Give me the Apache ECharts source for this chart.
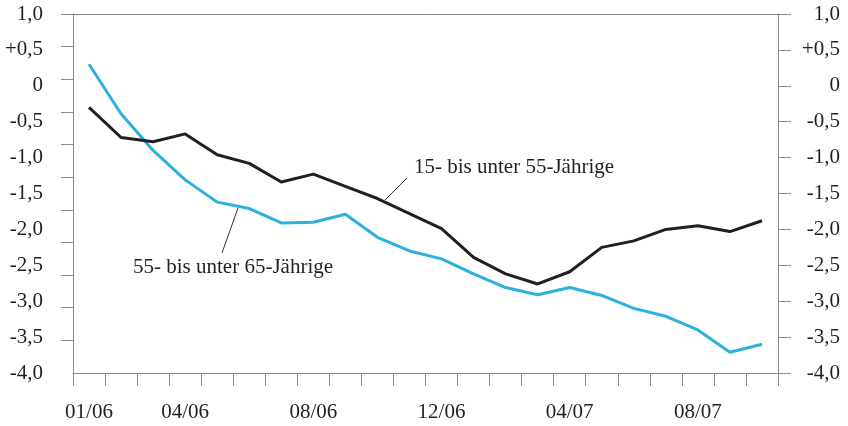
<!DOCTYPE html>
<html>
<head>
<meta charset="utf-8">
<script src="https://cdn.jsdelivr.net/npm/echarts@6/dist/echarts.min.js"></script>
<style>
  html, body { margin: 0; padding: 0; background: #fff; }
  #chart { width: 848px; height: 426px; }
</style>
</head>
<body>
<div id="chart"></div>
<script>
// Categories: months 01/06 .. 10/07
const months = ['01/06','02/06','03/06','04/06','05/06','06/06','07/06','08/06','09/06','10/06','11/06','12/06',
                '01/07','02/07','03/07','04/07','05/07','06/07','07/07','08/07','09/07','10/07'];
// Tick labels shown on the x axis
const xTickLabels = ['01/06','04/06','08/06','12/06','04/07','08/07'];
// Y tick labels from -4,0 up to 1,0
const yTickLabels = ['-4,0','-3,5','-3,0','-2,5','-2,0','-1,5','-1,0','-0,5','0','+0,5','1,0'];

const series15to55 = [-0.30,-0.72,-0.78,-0.67,-0.96,-1.08,-1.34,-1.23,-1.40,-1.57,-1.78,-1.99,
                      -2.39,-2.62,-2.76,-2.59,-2.25,-2.16,-2.00,-1.95,-2.03,-1.88];
const series55to65 = [0.30,-0.39,-0.90,-1.31,-1.62,-1.71,-1.91,-1.90,-1.79,-2.11,-2.30,-2.41,
                      -2.62,-2.81,-2.91,-2.81,-2.92,-3.10,-3.21,-3.40,-3.71,-3.60];

const seriesNames = ['15- bis unter 55-Jährige', '55- bis unter 65-Jährige'];

const FONT = 'Liberation Serif';
const TXT = '#231f20';
const AXIS = '#8a8a8a';

const chart = echarts.init(document.getElementById('chart'), null, { renderer: 'canvas' });

function yLabel(v) {
  const idx = Math.round((v + 4) / 0.5);
  return yTickLabels[idx] !== undefined ? yTickLabels[idx] : '';
}

const option = {
  animation: false,
  backgroundColor: '#fff',
  grid: { left: 73, right: 70, top: 14, bottom: 53, containLabel: false },
  xAxis: [
    {
      type: 'category',
      data: months,
      boundaryGap: true,
      position: 'bottom',
      axisLine: { show: true, onZero: false, lineStyle: { color: AXIS, width: 1 } },
      axisTick: { show: true, interval: 0, length: 13, lineStyle: { color: AXIS, width: 1 } },
      axisLabel: {
        interval: function (idx, val) { return xTickLabels.indexOf(val) >= 0; },
        margin: 29,
        fontFamily: FONT, fontSize: 21, color: TXT
      },
      splitLine: { show: false }
    },
    {
      type: 'category',
      data: months,
      position: 'top',
      axisLine: { show: true, onZero: false, lineStyle: { color: AXIS, width: 1 } },
      axisTick: { show: false },
      axisLabel: { show: false },
      splitLine: { show: false }
    }
  ],
  yAxis: [
    {
      type: 'value',
      position: 'left',
      min: -4, max: 1, interval: 0.5,
      axisLine: { show: true, onZero: false, lineStyle: { color: AXIS, width: 1 } },
      axisTick: { show: false },
      axisLabel: { formatter: yLabel, margin: 30, fontFamily: FONT, fontSize: 21, color: TXT },
      splitLine: { show: false }
    },
    {
      type: 'value',
      position: 'right',
      min: -4, max: 1, interval: 0.5,
      axisLine: { show: true, onZero: false, lineStyle: { color: AXIS, width: 1 } },
      axisTick: { show: true, length: 13, lineStyle: { color: AXIS, width: 1 } },
      axisLabel: { formatter: yLabel, align: 'right', margin: 62, fontFamily: FONT, fontSize: 21, color: TXT },
      splitLine: { show: false }
    },
    {
      type: 'value',
      position: 'left',
      min: 0, max: 11, interval: 1,
      axisLine: { show: false, onZero: false },
      axisTick: { show: true, length: 12, lineStyle: { color: AXIS, width: 1 },
                  customValues: [1,2,3,4,5,6,7,8,9,10,11] },
      axisLabel: { show: false },
      splitLine: { show: false }
    }
  ],
  series: [
    {
      name: seriesNames[1],
      type: 'line',
      data: series55to65,
      xAxisIndex: 0, yAxisIndex: 0,
      symbol: 'none',
      lineStyle: { color: '#2cb0dc', width: 3 },
      z: 2
    },
    {
      name: seriesNames[0],
      type: 'line',
      data: series15to55,
      xAxisIndex: 0, yAxisIndex: 0,
      symbol: 'none',
      lineStyle: { color: '#231f20', width: 3 },
      z: 3
    }
  ],
  graphic: [
    { type: 'text', left: 414, top: 157,
      style: { text: seriesNames[0], font: '21px "Liberation Serif"', fill: TXT } },
    { type: 'line', shape: { x1: 407, y1: 178, x2: 385, y2: 200 },
      style: { stroke: '#333', lineWidth: 1 } },
    { type: 'text', left: 133, top: 257,
      style: { text: seriesNames[1], font: '21px "Liberation Serif"', fill: TXT } },
    { type: 'line', shape: { x1: 238, y1: 208, x2: 222, y2: 253 },
      style: { stroke: '#333', lineWidth: 1 } }
  ]
};

chart.setOption(option);
</script>
</body>
</html>
